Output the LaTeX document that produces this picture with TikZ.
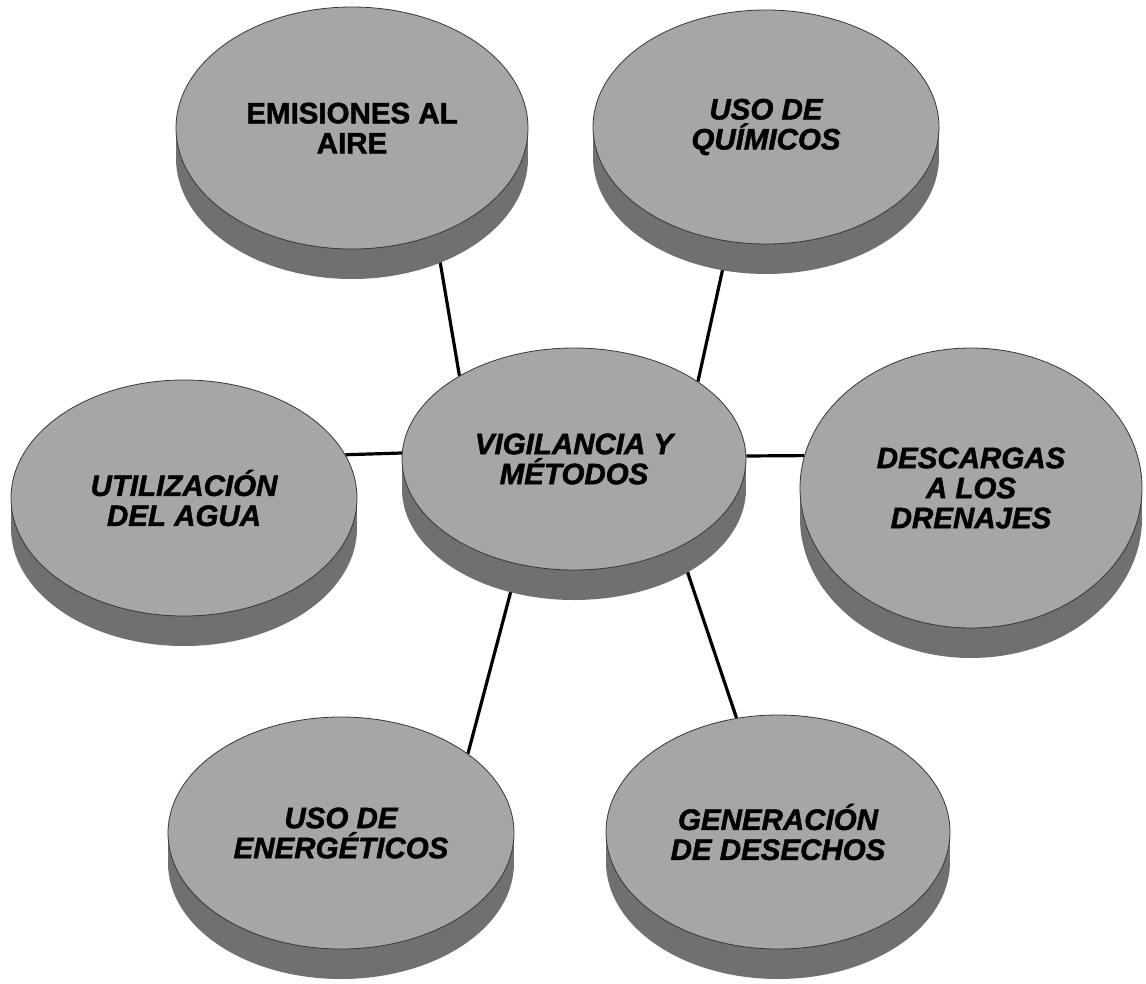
\documentclass[tikz,border=0pt]{standalone}
\usepackage{fontspec}
\setmainfont{Liberation Sans}
\newfontfamily\discfont{Liberation Sans}[BoldFeatures={FakeBold=1.6},BoldItalicFeatures={FakeBold=1.6}]
\usetikzlibrary{shapes.geometric,backgrounds}
\definecolor{discface}{RGB}{166,166,166}
\definecolor{discrim}{RGB}{112,112,112}
\definecolor{discedge}{RGB}{55,55,55}
\tikzset{disc/.style={ellipse,fill=discface,draw=discedge,line width=.8pt,inner sep=0pt,align=center,
    font=\fontsize{29.5}{30}\selectfont\discfont\bfseries},
  slanted/.style={font=\fontsize{29.5}{30}\selectfont\discfont\bfseries\itshape},
  upright/.style={},
  rim/.style={fill=discrim},
  link/.style={line width=3.2pt,black}}

\begin{document}
\begin{tikzpicture}[x=1pt,y=-1pt]
\useasboundingbox (0,0) rectangle (1146,983);
% discs: name/centre/radii/look/text
\foreach \nm/\cx/\cy/\rx/\ry/\look/\txt in {
  emis/352/128/176/121/upright/{EMISIONES AL\\AIRE},
  quim/766/127/173/117/slanted/{USO DE\\QUÍMICOS},
  util/184/498/173/118/slanted/{UTILIZACIÓN\\DEL AGUA},
  vigil/574/459/172/111/slanted/{VIGILANCIA Y\\MÉTODOS},
  desc/971/488/171/140/slanted/{DESCARGAS\\A LOS\\DRENAJES},
  ener/341/833/173/116/slanted/{USO DE\\ENERGÉTICOS},
  gen/778/832/172/117/slanted/{GENERACIÓN\\DE DESECHOS}}{
  \fill[rim] (\cx-\rx,\cy) rectangle (\cx+\rx,\cy+30);
  \fill[rim] (\cx,\cy+30) ellipse[x radius=\rx,y radius=\ry];
  \node[disc,\look,minimum width={2*\rx*1pt},minimum height={2*\ry*1pt}] (\nm) at (\cx,\cy) {\txt};
}
% links to the centre disc
\begin{scope}[on background layer]
\draw[link] (emis.-52) -- (vigil.144);
\draw[link] (quim.-108) -- (vigil.32);
\draw[link] (util.15) -- (vigil.178);
\draw[link] (vigil.1) -- (desc.169);
\draw[link] (vigil.-118) -- (ener.32);
\draw[link] (vigil.-40) -- (gen.110);
\end{scope}
\end{tikzpicture}
\end{document}
